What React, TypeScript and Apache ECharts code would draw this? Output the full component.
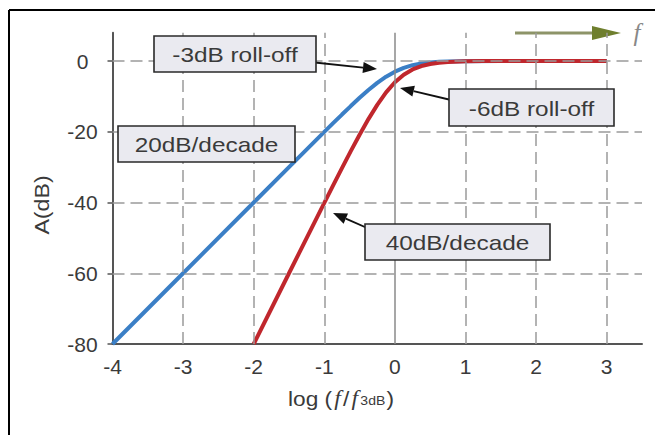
import React, { useEffect, useRef } from 'react';
import * as echarts from 'echarts';

// First-order response (blue)
const BLUE_X = [-4, -3, -2, -1.5, -1, -0.875, -0.75, -0.625, -0.5, -0.375, -0.25, -0.125, 0, 0.125, 0.25, 0.375, 0.5, 0.625, 0.75, 1, 1.5, 2, 3];
const BLUE_DB = [-80, -60, -40, -30, -20.04, -17.58, -15.14, -12.74, -10.41, -8.21, -6.19, -4.44, -3.01, -1.94, -1.19, -0.71, -0.41, -0.24, -0.14, -0.04, 0, 0, 0];

// Second-order response (red)
const RED_X = [-2, -1.5, -1, -0.875, -0.75, -0.625, -0.5, -0.375, -0.25, -0.125, 0, 0.125, 0.25, 0.375, 0.5, 0.625, 0.75, 1, 1.25, 1.5, 2, 3];
const RED_DB = [-80, -60, -40.09, -35.15, -30.27, -25.47, -20.83, -16.42, -12.39, -8.87, -6.02, -3.88, -2.39, -1.42, -0.83, -0.48, -0.27, -0.09, -0.03, 0, 0, 0];

const X_TICKS = [-4, -3, -2, -1, 0, 1, 2, 3];
const Y_TICKS = [-80, -60, -40, -20, 0];
const X_GRID_DASHED = [-3, -2, -1, 1, 2, 3];
const X_GRID_SOLID = [0];
const Y_GRID = [-60, -40, -20, 0];

const Y_NAME = 'A(dB)';
const NOTE_3DB = '-3dB roll-off';
const NOTE_6DB = '-6dB roll-off';
const NOTE_20 = '20dB/decade';
const NOTE_40 = '40dB/decade';

const FONT = '"Liberation Sans", Arial, sans-serif';
const SERIF = '"Liberation Serif", "Times New Roman", serif';
const TEXT_COLOR = '#3a3a3a';

function pairs(xs: number[], ys: number[]) {
  return xs.map((x, i) => [x, ys[i]]);
}

function arrow(x1: number, y1: number, x2: number, y2: number) {
  const dx = x2 - x1;
  const dy = y2 - y1;
  const len = Math.sqrt(dx * dx + dy * dy);
  const ux = dx / len;
  const uy = dy / len;
  const hl = 14;
  const hw = 5.5;
  const bx = x2 - ux * hl;
  const by = y2 - uy * hl;
  return [
    {
      type: 'line',
      shape: { x1, y1, x2: bx, y2: by },
      style: { stroke: '#111', lineWidth: 1.8 },
      z: 20,
    },
    {
      type: 'polygon',
      shape: {
        points: [
          [x2, y2],
          [bx - uy * hw, by + ux * hw],
          [bx + uy * hw, by - ux * hw],
        ],
      },
      style: { fill: '#111' },
      z: 20,
    },
  ];
}

function box(x: number, y: number, w: number, h: number, text: string) {
  return [
    {
      type: 'rect',
      shape: { x, y, width: w, height: h },
      style: { fill: '#eaeaf0', stroke: '#2a2a2a', lineWidth: 1.6 },
      z: 21,
    },
    {
      type: 'text',
      x: x + w / 2,
      y: y + h / 2 + 1,
      scaleX: 1.16,
      style: {
        text,
        fontSize: 21,
        fontFamily: FONT,
        fill: TEXT_COLOR,
        align: 'center',
        verticalAlign: 'middle',
      },
      z: 22,
    },
  ];
}

export default function App() {
  const ref = useRef<HTMLDivElement>(null);

  useEffect(() => {
    if (!ref.current) return;
    const chart = echarts.init(ref.current, null, { renderer: 'svg' });

    const gridDashed = { type: [12, 6], color: '#9a9a9a', width: 1.5 };
    const markData: any[] = [
      ...X_GRID_DASHED.map((v) => ({ xAxis: v, lineStyle: gridDashed })),
      ...X_GRID_SOLID.map((v) => ({ xAxis: v, lineStyle: { type: 'solid', color: '#8a8a8a', width: 1.5 } })),
      ...Y_GRID.map((v) => ({ yAxis: v, lineStyle: gridDashed })),
    ];

    const option: any = {
      animation: false,
      backgroundColor: '#ffffff',
      grid: { left: 112.5, right: 13, top: 32.7, bottom: 91 },
      xAxis: {
        type: 'value',
        min: -4,
        max: 3.5,
        interval: 1,
        axisLine: { show: true, onZero: false, lineStyle: { color: '#555', width: 2 } },
        axisTick: { show: false },
        axisLabel: {
          customValues: X_TICKS,
          formatter: (v: number) => (X_TICKS.includes(v) ? String(v) : ''),
          fontSize: 21,
          fontFamily: FONT,
          color: TEXT_COLOR,
          margin: 12,
        },
        splitLine: { show: false },
      },
      yAxis: {
        type: 'value',
        min: -80,
        max: 8,
        interval: 20,
        axisLine: { show: true, onZero: false, lineStyle: { color: '#555', width: 2 } },
        axisTick: { show: true, length: 5, customValues: Y_TICKS, lineStyle: { color: '#555', width: 1.5 } },
        axisLabel: {
          customValues: Y_TICKS,
          formatter: (v: number) => (Y_TICKS.includes(v) ? String(v) : ''),
          fontSize: 21,
          fontFamily: FONT,
          color: TEXT_COLOR,
          margin: 30,
          align: 'center',
        },
        splitLine: { show: false },
      },
      series: [
        {
          name: 'grid',
          type: 'line',
          data: [[-4, -80]],
          symbol: 'none',
          lineStyle: { width: 0 },
          silent: true,
          z: 1,
          markLine: {
            silent: true,
            symbol: ['none', 'none'],
            label: { show: false },
            data: markData,
          },
        },
        {
          name: 'first order',
          type: 'line',
          data: pairs(BLUE_X, BLUE_DB),
          symbol: 'none',
          lineStyle: { color: '#3b7fc6', width: 4 },
          z: 3,
        },
        {
          name: 'second order',
          type: 'line',
          data: pairs(RED_X, RED_DB),
          symbol: 'none',
          lineStyle: { color: '#c0272d', width: 4 },
          z: 4,
        },
      ],
      graphic: [
        // frame
        { type: 'line', shape: { x1: 9, y1: 10, x2: 9, y2: 435 }, style: { stroke: '#000', lineWidth: 2 } },
        { type: 'line', shape: { x1: 9, y1: 10, x2: 655, y2: 10 }, style: { stroke: '#000', lineWidth: 2 } },
        // frequency arrow
        { type: 'line', shape: { x1: 515, y1: 33, x2: 596, y2: 33 }, style: { stroke: '#8d9468', lineWidth: 3 } },
        { type: 'polygon', shape: { points: [[592, 26], [621, 33], [592, 40]] }, style: { fill: '#6f7f2e' } },
        {
          type: 'text',
          x: 637,
          y: 32,
          style: {
            text: 'f',
            fontSize: 25,
            fontStyle: 'italic',
            fontFamily: SERIF,
            fill: '#888',
            align: 'center',
            verticalAlign: 'middle',
          },
        },
        // axis names
        {
          type: 'text',
          x: 42,
          y: 205,
          rotation: Math.PI / 2,
          scaleX: 1.16,
          style: {
            text: Y_NAME,
            fontSize: 20,
            fontFamily: FONT,
            fill: TEXT_COLOR,
            align: 'center',
            verticalAlign: 'middle',
          },
        },
        {
          type: 'text',
          x: 341,
          y: 397,
          scaleX: 1.08,
          style: {
            text: '{a|log (}{i|f}{a|/}{i|f}{s|3dB}{a|)}',
            align: 'center',
            verticalAlign: 'middle',
            rich: {
              a: { fontSize: 21, fontFamily: FONT, fill: TEXT_COLOR, lineHeight: 24, verticalAlign: 'bottom' },
              i: {
                fontSize: 22,
                fontStyle: 'italic',
                fontFamily: SERIF,
                fill: TEXT_COLOR,
                lineHeight: 24,
                verticalAlign: 'bottom',
                padding: [0, 2, 0, 2],
              },
              s: { fontSize: 13, fontFamily: FONT, fill: TEXT_COLOR, lineHeight: 14, verticalAlign: 'bottom', padding: [0, 1, 2, 0] },
            },
          },
        },
        // annotations
        ...arrow(310, 62, 377, 69),
        ...box(154, 36, 162, 36, NOTE_3DB),
        ...arrow(451, 100, 400, 88),
        ...box(449, 89, 165, 37, NOTE_6DB),
        ...box(118, 126, 177, 36, NOTE_20),
        ...arrow(374, 231, 333, 213),
        ...box(365, 224, 185, 36, NOTE_40),
      ],
    };

    chart.setOption(option);
    return () => {
      chart.dispose();
    };
  }, []);

  return (
    <div
      ref={ref}
      style={{ position: 'absolute', left: 0, top: 0, width: 655, height: 435 }}
    />
  );
}
